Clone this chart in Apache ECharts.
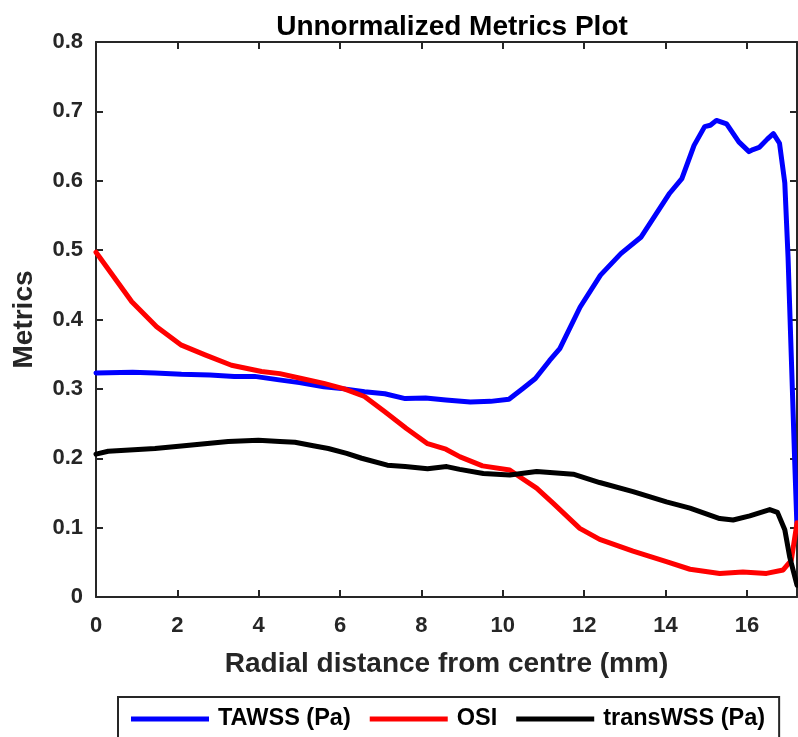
<!DOCTYPE html>
<html>
<head>
<meta charset="utf-8">
<script src="https://cdn.jsdelivr.net/npm/echarts@6/dist/echarts.min.js"></script>
<style>
html,body{margin:0;padding:0;background:#fff;}
#chart{width:798px;height:737px;}
</style>
</head>
<body>
<div id="chart"></div>
<script>
// Data (x in mm)
var tawssX = [0, 0.9, 1.45, 2.1, 2.8, 3.4, 3.9, 4.5, 5.0, 5.6, 6.1, 6.6, 7.1, 7.6, 8.1, 8.6, 9.2, 9.7, 10.15, 10.5, 10.8, 11.15, 11.4, 11.9, 12.4, 12.9, 13.4, 13.7, 14.1, 14.4, 14.7, 14.96, 15.1, 15.25, 15.5, 15.8, 16.05, 16.15, 16.3, 16.5, 16.65, 16.8, 16.93, 17.01, 17.09, 17.17, 17.23];
var tawssY = [0.323, 0.324, 0.323, 0.321, 0.320, 0.318, 0.318, 0.313, 0.309, 0.303, 0.300, 0.296, 0.293, 0.286, 0.287, 0.284, 0.281, 0.282, 0.285, 0.301, 0.315, 0.341, 0.358, 0.418, 0.464, 0.495, 0.519, 0.546, 0.582, 0.603, 0.651, 0.678, 0.680, 0.687, 0.682, 0.656, 0.642, 0.645, 0.648, 0.660, 0.668, 0.654, 0.597, 0.49, 0.346, 0.202, 0.10];

var osiX = [0, 0.88, 1.49, 2.1, 2.68, 3.33, 4.07, 4.52, 5.05, 5.6, 6.1, 6.6, 7.1, 7.63, 8.15, 8.6, 8.95, 9.5, 10.17, 10.42, 10.83, 11.24, 11.89, 12.38, 13.2, 14.02, 14.6, 15.33, 15.9, 16.48, 16.89, 17.09, 17.23];
var osiY = [0.497, 0.4255, 0.3895, 0.363, 0.349, 0.334, 0.325, 0.322, 0.315, 0.308, 0.300, 0.289, 0.267, 0.243, 0.221, 0.213, 0.202, 0.189, 0.183, 0.173, 0.157, 0.135, 0.099, 0.083, 0.066, 0.051, 0.040, 0.034, 0.036, 0.034, 0.039, 0.053, 0.107];

var transX = [0, 0.3, 1.45, 2.1, 3.25, 3.99, 4.52, 4.89, 5.34, 5.71, 6.16, 6.53, 7.16, 7.6, 8.15, 8.62, 8.94, 9.52, 10.17, 10.83, 11.73, 12.38, 13.2, 14.02, 14.6, 15.33, 15.66, 16.07, 16.56, 16.75, 16.93, 17.05, 17.23];
var transY = [0.206, 0.210, 0.214, 0.2175, 0.224, 0.226, 0.224, 0.223, 0.218, 0.214, 0.207, 0.200, 0.190, 0.188, 0.185, 0.188, 0.184, 0.178, 0.176, 0.181, 0.177, 0.165, 0.152, 0.137, 0.128, 0.113, 0.111, 0.117, 0.126, 0.122, 0.097, 0.058, 0.017];

var seriesNames = ['TAWSS (Pa)', 'OSI', 'transWSS (Pa)'];
var seriesColors = ['#0000ff', '#ff0000', '#000000'];
var xMin = 0, xMax = 17.23, xInterval = 2;
var yMin = 0, yMax = 0.8, yInterval = 0.1;

function zip(xs, ys) {
  var out = [];
  for (var i = 0; i < xs.length; i++) out.push([xs[i], ys[i]]);
  return out;
}

var FONT = '"Liberation Sans", Arial, Helvetica, sans-serif';
var INK = '#262626';

var chart = echarts.init(document.getElementById('chart'), null, {renderer: 'canvas'});

function axisCommon() {
  return {
    axisLine: {show: true, onZero: false, lineStyle: {color: INK, width: 2}},
    axisTick: {show: true, inside: true, length: 7, lineStyle: {color: INK, width: 2}},
    splitLine: {show: false}
  };
}

var option = {
  backgroundColor: '#ffffff',
  animation: false,
  title: {
    text: 'Unnormalized Metrics Plot',
    left: 447,
    textAlign: 'center',
    top: 8,
    textStyle: {fontFamily: FONT, fontSize: 28, fontWeight: 'bold', color: '#000000'}
  },
  grid: {left: 96, right: 1, top: 42, bottom: 140, containLabel: false},
  legend: {
    data: seriesNames,
    left: 118,
    top: 697,
    orient: 'horizontal',
    icon: 'rect',
    itemWidth: 78,
    itemHeight: 5,
    itemGap: 19,
    padding: [10, 14, 30, 13],
    borderColor: INK,
    borderWidth: 2,
    backgroundColor: '#ffffff',
    textStyle: {fontFamily: FONT, fontSize: 23.5, fontWeight: 'bold', color: '#000000', padding: [0, 0, 0, 4]}
  },
  xAxis: [
    Object.assign({
      type: 'value', min: xMin, max: xMax, interval: xInterval, position: 'bottom',
      name: 'Radial distance from centre (mm)', nameLocation: 'middle', nameGap: 53,
      nameTextStyle: {fontFamily: FONT, fontSize: 28, fontWeight: 'bold', color: INK},
      axisLabel: {show: true, showMaxLabel: false, margin: 18, fontFamily: FONT, fontSize: 22, fontWeight: 'bold', color: INK}
    }, axisCommon()),
    Object.assign({
      type: 'value', min: xMin, max: xMax, interval: xInterval, position: 'top',
      axisLabel: {show: false}
    }, axisCommon())
  ],
  yAxis: [
    Object.assign({
      type: 'value', min: yMin, max: yMax, interval: yInterval, position: 'left',
      name: 'Metrics', nameLocation: 'middle', nameGap: 58,
      nameTextStyle: {fontFamily: FONT, fontSize: 28, fontWeight: 'bold', color: INK},
      axisLabel: {show: true, margin: 13, fontFamily: FONT, fontSize: 22, fontWeight: 'bold', color: INK}
    }, axisCommon()),
    Object.assign({
      type: 'value', min: yMin, max: yMax, interval: yInterval, position: 'right',
      axisLabel: {show: false}
    }, axisCommon())
  ],
  series: [
    {name: seriesNames[0], type: 'line', data: zip(tawssX, tawssY), showSymbol: false, symbol: 'none', clip: true,
     lineStyle: {color: seriesColors[0], width: 5, join: 'round', cap: 'round'}, itemStyle: {color: seriesColors[0]}},
    {name: seriesNames[1], type: 'line', data: zip(osiX, osiY), showSymbol: false, symbol: 'none', clip: true,
     lineStyle: {color: seriesColors[1], width: 5, join: 'round', cap: 'round'}, itemStyle: {color: seriesColors[1]}},
    {name: seriesNames[2], type: 'line', data: zip(transX, transY), showSymbol: false, symbol: 'none', clip: true,
     lineStyle: {color: seriesColors[2], width: 5, join: 'round', cap: 'round'}, itemStyle: {color: seriesColors[2]}}
  ]
};
chart.setOption(option);
</script>
</body>
</html>
